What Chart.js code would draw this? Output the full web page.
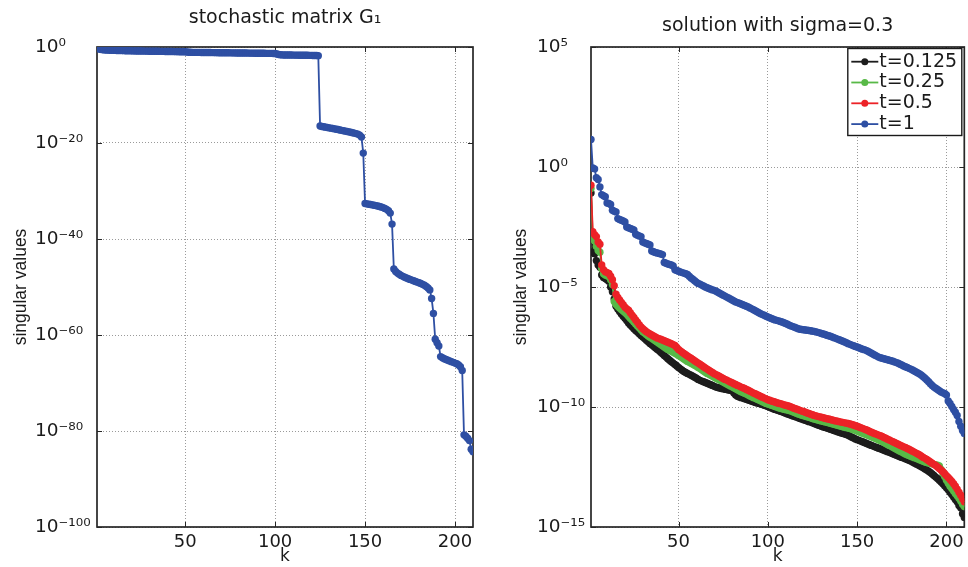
<!DOCTYPE html>
<html><head><meta charset="utf-8">
<script src="https://cdn.jsdelivr.net/npm/chart.js@4/dist/chart.umd.min.js"></script>
<style>
html,body{margin:0;padding:0;background:#fff;}
#wrap{position:relative;width:968px;height:567px;overflow:hidden;background:#fff;}
canvas{position:absolute;top:0;}
#c1{left:0;} #c2{left:484px;}
</style></head><body>
<div id="wrap"><canvas id="c1" width="484" height="567"></canvas><canvas id="c2" width="484" height="567"></canvas></div>
<script>
// ---------- data ----------
const xTickValues = [50, 100, 150, 200];
const leftYTickExponents = [0, -20, -40, -60, -80, -100];
const rightYTickExponents = [5, 0, -5, -10, -15];
const leftTitle = 'stochastic matrix G₁';
const rightTitle = 'solution with sigma=0.3';
const xAxisLabel = 'k';
const yAxisLabel = 'singular values';
const seriesLabels = ['t=0.125', 't=0.25', 't=0.5', 't=1'];

// log10 of singular values, k = 1..210
const g1Log10 = [
 0.00,-0.40,-0.50,-0.55,-0.60,-0.62,-0.65,-0.67,-0.69,-0.70,
 -0.71,-0.72,-0.73,-0.74,-0.75,-0.76,-0.77,-0.78,-0.79,-0.80,
 -0.81,-0.81,-0.82,-0.83,-0.83,-0.84,-0.85,-0.85,-0.86,-0.87,
 -0.87,-0.88,-0.89,-0.89,-0.90,-0.91,-0.91,-0.92,-0.93,-0.93,
 -0.94,-0.95,-0.95,-0.96,-0.97,-0.97,-0.98,-0.99,-0.99,-1.00,
 -1.05,-1.08,-1.10,-1.11,-1.12,-1.12,-1.13,-1.13,-1.14,-1.14,
 -1.15,-1.15,-1.16,-1.16,-1.17,-1.17,-1.18,-1.18,-1.19,-1.19,
 -1.20,-1.20,-1.21,-1.21,-1.22,-1.22,-1.23,-1.23,-1.24,-1.24,
 -1.25,-1.25,-1.26,-1.26,-1.27,-1.27,-1.28,-1.28,-1.29,-1.29,
 -1.30,-1.30,-1.31,-1.31,-1.32,-1.32,-1.33,-1.33,-1.34,-1.35,
 -1.45,-1.55,-1.62,-1.65,-1.66,-1.67,-1.67,-1.68,-1.68,-1.69,
 -1.69,-1.70,-1.70,-1.71,-1.71,-1.72,-1.72,-1.73,-1.74,-1.75,
 -1.76,-1.77,-1.78,-1.80,-16.46,-16.55,-16.62,-16.70,-16.77,-16.84,
 -16.91,-16.98,-17.05,-17.12,-17.20,-17.28,-17.36,-17.44,-17.52,-17.60,
 -17.68,-17.76,-17.85,-17.94,-18.04,-18.15,-18.35,-18.75,-22.10,-32.60,
 -32.68,-32.75,-32.82,-32.89,-32.96,-33.04,-33.12,-33.22,-33.33,-33.46,
 -33.62,-33.82,-34.10,-34.60,-36.90,-46.25,-46.75,-47.10,-47.35,-47.58,
 -47.78,-47.96,-48.12,-48.28,-48.42,-48.56,-48.70,-48.84,-48.98,-49.12,
 -49.28,-49.45,-49.65,-49.90,-50.20,-50.60,-52.40,-55.50,-60.90,-61.60,
 -62.30,-64.50,-64.75,-64.95,-65.10,-65.25,-65.40,-65.55,-65.70,-65.85,
 -66.00,-66.25,-66.60,-67.40,-80.80,-81.10,-81.50,-82.00,-83.80,-84.30
];

const t0125Log10 = [
 -1.08,-3.54,-3.62,-3.90,-4.08,-4.18,-4.50,-4.60,-4.65,-4.70,
 -4.76,-5.00,-5.20,-5.50,-5.80,-5.92,-6.02,-6.12,-6.22,-6.30,
 -6.40,-6.50,-6.58,-6.66,-6.74,-6.81,-6.88,-6.95,-7.02,-7.08,
 -7.15,-7.22,-7.28,-7.35,-7.41,-7.47,-7.53,-7.59,-7.65,-7.72,
 -7.78,-7.85,-7.92,-7.99,-8.05,-8.11,-8.17,-8.23,-8.29,-8.35,
 -8.41,-8.47,-8.52,-8.56,-8.60,-8.64,-8.68,-8.72,-8.76,-8.80,
 -8.85,-8.89,-8.92,-8.95,-8.98,-9.01,-9.04,-9.07,-9.10,-9.14,
 -9.17,-9.19,-9.21,-9.23,-9.24,-9.26,-9.27,-9.29,-9.30,-9.32,
 -9.42,-9.50,-9.55,-9.58,-9.61,-9.63,-9.66,-9.68,-9.71,-9.73,
 -9.76,-9.78,-9.81,-9.83,-9.85,-9.88,-9.90,-9.93,-9.95,-9.98,
 -10.01,-10.04,-10.07,-10.10,-10.13,-10.15,-10.18,-10.20,-10.23,-10.26,
 -10.29,-10.31,-10.34,-10.37,-10.40,-10.42,-10.45,-10.48,-10.50,-10.53,
 -10.55,-10.58,-10.61,-10.63,-10.66,-10.69,-10.72,-10.75,-10.77,-10.80,
 -10.83,-10.85,-10.88,-10.90,-10.93,-10.95,-10.98,-11.00,-11.03,-11.05,
 -11.08,-11.10,-11.13,-11.15,-11.18,-11.22,-11.26,-11.29,-11.33,-11.36,
 -11.39,-11.42,-11.45,-11.48,-11.51,-11.54,-11.57,-11.60,-11.63,-11.66,
 -11.69,-11.72,-11.74,-11.77,-11.80,-11.83,-11.86,-11.89,-11.92,-11.95,
 -11.98,-12.01,-12.04,-12.07,-12.10,-12.13,-12.16,-12.19,-12.22,-12.25,
 -12.29,-12.33,-12.37,-12.41,-12.45,-12.49,-12.53,-12.58,-12.63,-12.68,
 -12.73,-12.79,-12.85,-12.92,-12.98,-13.05,-13.12,-13.20,-13.28,-13.36,
 -13.45,-13.55,-13.65,-13.75,-13.85,-13.95,-14.10,-14.20,-14.45,-14.60
];

const t025Log10 = [
 -0.90,-2.98,-3.08,-3.30,-3.48,-3.55,-4.24,-4.45,-4.50,-4.53,
 -4.56,-4.70,-4.90,-5.60,-5.72,-5.80,-5.87,-5.94,-6.00,-6.06,
 -6.14,-6.22,-6.30,-6.38,-6.46,-6.54,-6.62,-6.70,-6.78,-6.86,
 -6.92,-6.98,-7.04,-7.09,-7.14,-7.19,-7.24,-7.29,-7.34,-7.40,
 -7.45,-7.50,-7.55,-7.60,-7.64,-7.68,-7.72,-7.76,-7.80,-7.85,
 -7.90,-7.95,-8.00,-8.05,-8.10,-8.14,-8.18,-8.22,-8.26,-8.30,
 -8.35,-8.40,-8.45,-8.50,-8.55,-8.60,-8.64,-8.68,-8.72,-8.76,
 -8.80,-8.84,-8.88,-8.92,-8.96,-9.00,-9.04,-9.08,-9.12,-9.16,
 -9.20,-9.24,-9.28,-9.32,-9.36,-9.40,-9.43,-9.46,-9.50,-9.54,
 -9.57,-9.61,-9.64,-9.68,-9.71,-9.74,-9.78,-9.81,-9.85,-9.88,
 -9.90,-9.93,-9.95,-9.98,-10.00,-10.03,-10.05,-10.07,-10.09,-10.11,
 -10.13,-10.15,-10.17,-10.20,-10.23,-10.26,-10.29,-10.31,-10.34,-10.36,
 -10.39,-10.41,-10.43,-10.45,-10.48,-10.50,-10.52,-10.54,-10.56,-10.58,
 -10.60,-10.62,-10.64,-10.66,-10.68,-10.70,-10.72,-10.74,-10.76,-10.78,
 -10.80,-10.82,-10.84,-10.86,-10.88,-10.90,-10.92,-10.95,-10.97,-11.00,
 -11.03,-11.06,-11.09,-11.12,-11.15,-11.18,-11.21,-11.24,-11.27,-11.30,
 -11.33,-11.37,-11.40,-11.44,-11.48,-11.52,-11.56,-11.60,-11.64,-11.68,
 -11.72,-11.76,-11.80,-11.84,-11.88,-11.92,-11.96,-11.99,-12.02,-12.05,
 -12.08,-12.11,-12.14,-12.17,-12.20,-12.23,-12.26,-12.29,-12.31,-12.33,
 -12.35,-12.37,-12.39,-12.41,-12.43,-12.46,-12.60,-12.75,-12.90,-13.05,
 -13.18,-13.30,-13.40,-13.50,-13.60,-13.70,-13.80,-13.92,-14.05,-14.15
];

const t05Log10 = [
 -0.76,-2.70,-2.82,-2.90,-3.12,-3.22,-4.08,-4.28,-4.36,-4.40,
 -4.44,-4.55,-4.70,-4.95,-5.30,-5.44,-5.54,-5.64,-5.74,-5.84,
 -5.91,-5.97,-6.07,-6.17,-6.27,-6.37,-6.47,-6.57,-6.66,-6.74,
 -6.80,-6.86,-6.91,-6.96,-7.00,-7.04,-7.08,-7.12,-7.15,-7.18,
 -7.21,-7.24,-7.27,-7.30,-7.33,-7.36,-7.40,-7.44,-7.52,-7.60,
 -7.66,-7.72,-7.77,-7.82,-7.87,-7.92,-7.97,-8.02,-8.07,-8.12,
 -8.17,-8.22,-8.27,-8.32,-8.37,-8.42,-8.47,-8.52,-8.56,-8.61,
 -8.65,-8.69,-8.73,-8.77,-8.81,-8.85,-8.88,-8.92,-8.96,-8.99,
 -9.03,-9.06,-9.10,-9.13,-9.17,-9.20,-9.23,-9.27,-9.30,-9.34,
 -9.38,-9.42,-9.45,-9.49,-9.52,-9.56,-9.59,-9.63,-9.66,-9.70,
 -9.72,-9.75,-9.77,-9.79,-9.82,-9.84,-9.86,-9.88,-9.91,-9.93,
 -9.95,-9.97,-10.00,-10.03,-10.06,-10.08,-10.11,-10.14,-10.17,-10.19,
 -10.22,-10.25,-10.27,-10.30,-10.32,-10.35,-10.37,-10.39,-10.41,-10.43,
 -10.45,-10.47,-10.49,-10.50,-10.52,-10.54,-10.56,-10.58,-10.59,-10.61,
 -10.63,-10.64,-10.66,-10.67,-10.69,-10.71,-10.73,-10.75,-10.78,-10.80,
 -10.83,-10.86,-10.89,-10.92,-10.95,-10.98,-11.02,-11.05,-11.08,-11.11,
 -11.14,-11.17,-11.20,-11.23,-11.27,-11.30,-11.34,-11.37,-11.41,-11.45,
 -11.48,-11.52,-11.55,-11.59,-11.62,-11.66,-11.69,-11.73,-11.76,-11.80,
 -11.84,-11.88,-11.92,-11.96,-12.00,-12.05,-12.10,-12.14,-12.19,-12.24,
 -12.29,-12.34,-12.39,-12.44,-12.50,-12.56,-12.63,-12.70,-12.78,-12.86,
 -12.94,-13.02,-13.10,-13.20,-13.30,-13.42,-13.55,-13.68,-13.82,-13.95
];

const t1Log10 = [
 1.15,-0.04,-0.08,-0.45,-0.52,-0.83,-1.15,-1.20,-1.24,-1.50,
 -1.52,-1.56,-1.80,-1.84,-1.87,-2.15,-2.19,-2.22,-2.25,-2.29,
 -2.50,-2.53,-2.56,-2.59,-2.62,-2.80,-2.84,-2.87,-2.90,-3.12,
 -3.16,-3.19,-3.22,-3.25,-3.50,-3.53,-3.56,-3.58,-3.60,-3.62,
 -3.65,-3.98,-4.01,-4.04,-4.06,-4.08,-4.12,-4.28,-4.31,-4.34,
 -4.37,-4.40,-4.42,-4.45,-4.48,-4.55,-4.62,-4.68,-4.74,-4.80,
 -4.85,-4.88,-4.92,-4.96,-5.00,-5.03,-5.06,-5.09,-5.12,-5.14,
 -5.18,-5.22,-5.26,-5.30,-5.34,-5.38,-5.42,-5.46,-5.50,-5.54,
 -5.58,-5.62,-5.65,-5.68,-5.71,-5.74,-5.77,-5.80,-5.83,-5.87,
 -5.91,-5.95,-5.99,-6.03,-6.07,-6.11,-6.15,-6.18,-6.22,-6.25,
 -6.28,-6.31,-6.34,-6.37,-6.39,-6.41,-6.44,-6.46,-6.49,-6.52,
 -6.55,-6.59,-6.62,-6.65,-6.68,-6.71,-6.74,-6.76,-6.77,-6.78,
 -6.79,-6.80,-6.81,-6.82,-6.84,-6.85,-6.87,-6.89,-6.91,-6.94,
 -6.96,-6.98,-7.01,-7.03,-7.05,-7.08,-7.11,-7.14,-7.17,-7.20,
 -7.23,-7.26,-7.29,-7.32,-7.36,-7.39,-7.42,-7.45,-7.48,-7.50,
 -7.53,-7.56,-7.59,-7.61,-7.64,-7.68,-7.72,-7.76,-7.80,-7.84,
 -7.88,-7.92,-7.95,-7.97,-7.99,-8.01,-8.03,-8.05,-8.07,-8.09,
 -8.12,-8.15,-8.18,-8.22,-8.25,-8.29,-8.32,-8.35,-8.39,-8.42,
 -8.46,-8.50,-8.54,-8.58,-8.62,-8.68,-8.74,-8.80,-8.87,-8.95,
 -9.03,-9.10,-9.17,-9.22,-9.27,-9.32,-9.37,-9.41,-9.44,-9.50,
 -9.75,-9.85,-9.98,-10.10,-10.22,-10.35,-10.60,-10.80,-10.98,-11.10
];

const seriesColors = ['#1c1c1c', '#58b947', '#ec2227', '#2e4fa3'];

// ---------- helpers ----------
const SUP = {'0':'⁰','1':'¹','2':'²','3':'³','4':'⁴','5':'⁵','6':'⁶','7':'⁷','8':'⁸','9':'⁹','-':'⁻'};
function powLabel(v){
  const e = Math.round(Math.log10(v));
  return '10' + String(e).split('').map(c => SUP[c]).join('');
}
function toPoints(arr){ return arr.map((v, i) => ({x: i + 1, y: Math.pow(10, v)})); }

Chart.defaults.font.family = '"DejaVu Sans", "Liberation Sans", sans-serif';
Chart.defaults.color = '#1a1a1a';

const framePlugin = {
  id: 'frame',
  beforeDatasetsDraw(chart){
    const {ctx, chartArea: ca, scales} = chart;
    ctx.save();
    ctx.strokeStyle = '#262626';
    ctx.lineWidth = 1;
    const tl = 5;
    ctx.beginPath();
    scales.x.ticks.forEach(t => {
      const px = Math.round(scales.x.getPixelForValue(t.value)) + 0.5;
      ctx.moveTo(px, ca.bottom); ctx.lineTo(px, ca.bottom - tl);
      ctx.moveTo(px, ca.top); ctx.lineTo(px, ca.top + tl);
    });
    scales.y.ticks.forEach(t => {
      const py = Math.round(scales.y.getPixelForValue(t.value)) + 0.5;
      ctx.moveTo(ca.left, py); ctx.lineTo(ca.left + tl, py);
      ctx.moveTo(ca.right, py); ctx.lineTo(ca.right - tl, py);
    });
    ctx.stroke();
    ctx.lineWidth = 1.7;
    ctx.strokeRect(ca.left, ca.top, ca.right - ca.left, ca.bottom - ca.top);
    ctx.restore();
  },
  afterDraw(chart, args, opts){
    const {ctx, chartArea: ca} = chart;
    ctx.save();
    ctx.translate(opts.yTitleX, (ca.top + ca.bottom) / 2);
    ctx.rotate(-Math.PI / 2);
    ctx.textAlign = 'center';
    ctx.textBaseline = 'middle';
    ctx.fillStyle = '#1a1a1a';
    ctx.font = '17.5px "Liberation Sans", "DejaVu Sans", sans-serif';
    ctx.fillText(yAxisLabel, 0, 0);
    ctx.restore();
  }
};

const boxLegendPlugin = {
  id: 'boxLegend',
  afterDraw(chart, args, opts){
    if (!opts.show) return;
    const {ctx, chartArea: ca} = chart;
    const w = 114, h = 87;
    const x0 = ca.right - 3 - w, y0 = ca.top + 1;
    ctx.save();
    ctx.fillStyle = '#fff';
    ctx.fillRect(x0, y0, w, h);
    ctx.strokeStyle = '#1a1a1a';
    ctx.lineWidth = 1.4;
    ctx.strokeRect(x0 + 0.5, y0 + 0.5, w, h);
    ctx.font = '19px "DejaVu Sans", sans-serif';
    ctx.textBaseline = 'middle';
    ctx.textAlign = 'left';
    chart.data.datasets.forEach((ds, i) => {
      const cy = y0 + 13.7 + i * 20.8;
      ctx.strokeStyle = ds.borderColor;
      ctx.lineWidth = 1.8;
      ctx.beginPath(); ctx.moveTo(x0 + 4, cy); ctx.lineTo(x0 + 31, cy); ctx.stroke();
      ctx.fillStyle = ds.borderColor;
      ctx.beginPath(); ctx.arc(x0 + 17.5, cy, 3.5, 0, Math.PI * 2); ctx.fill();
      ctx.fillStyle = '#1a1a1a';
      ctx.fillText(ds.label, x0 + 32, cy);
    });
    ctx.restore();
  }
};

function makeOptions(cfg){
  return {
    responsive: false,
    animation: false,
    devicePixelRatio: 1,
    events: [],
    layout: {padding: {left: cfg.padLeft, right: cfg.padRight, top: 0, bottom: 0}},
    plugins: {
      legend: {display: false},
      tooltip: {enabled: false},
      title: {
        display: true, text: cfg.title, fullSize: false,
        font: {size: 19, weight: 'normal', lineHeight: 1.2},
        color: '#1a1a1a',
        padding: cfg.titlePad
      },
      frame: {yTitleX: cfg.yTitleX},
      boxLegend: {show: cfg.legend}
    },
    scales: {
      x: {
        type: 'linear', min: 1, max: 210,
        afterBuildTicks: s => { s.ticks = xTickValues.map(v => ({value: v})); },
        afterFit: s => { s.height = 40; },
        ticks: {autoSkip: false, maxRotation: 0, padding: 0, font: {size: 18}, color: '#1a1a1a', callback: v => String(v)},
        grid: {color: '#9a9a9a', lineWidth: 1, drawTicks: true, tickLength: 5, tickColor: 'rgba(0,0,0,0)'},
        border: {display: false, dash: [1, 2]},
        title: {display: true, text: xAxisLabel, font: {size: 17, lineHeight: 1.2}, color: '#1a1a1a', padding: {top: 0, bottom: 0}}
      },
      y: {
        type: 'logarithmic', min: Math.pow(10, cfg.yTicks[cfg.yTicks.length - 1]), max: Math.pow(10, cfg.yTicks[0]),
        afterBuildTicks: s => { s.ticks = cfg.yTicks.map(e => ({value: Math.pow(10, e)})); },
        afterFit: s => { s.width = cfg.yWidth; },
        ticks: {autoSkip: false, crossAlign: 'far', padding: 0, font: {size: 18.5}, color: '#1a1a1a', callback: v => powLabel(v)},
        grid: {color: '#9a9a9a', lineWidth: 1, drawTicks: false},
        border: {display: false, dash: [1, 2]}
      }
    }
  };
}

function ds(label, arr, color, order){
  return {
    label: label, data: toPoints(arr), borderColor: color, backgroundColor: color,
    borderWidth: 1.8, pointRadius: 3.7, pointBorderWidth: 0, pointBackgroundColor: color,
    pointHoverRadius: 0, tension: 0, order: order
  };
}

new Chart(document.getElementById('c1'), {
  type: 'line',
  data: {datasets: [ds('G1', g1Log10, seriesColors[3], 1)]},
  options: makeOptions({padLeft: 35, padRight: 11, yWidth: 62, yTicks: leftYTickExponents,
    title: leftTitle, titlePad: {top: 7, bottom: 17.2}, yTitleX: 21, legend: false}),
  plugins: [framePlugin, boxLegendPlugin]
});

new Chart(document.getElementById('c2'), {
  type: 'line',
  data: {datasets: [
    ds(seriesLabels[0], t0125Log10, seriesColors[0], 4),
    ds(seriesLabels[1], t025Log10, seriesColors[1], 3),
    ds(seriesLabels[2], t05Log10, seriesColors[2], 2),
    ds(seriesLabels[3], t1Log10, seriesColors[3], 1)
  ]},
  options: makeOptions({padLeft: 53, padRight: 1, yWidth: 54, yTicks: rightYTickExponents,
    title: rightTitle, titlePad: {top: 14.2, bottom: 10}, yTitleX: 521 - 484, legend: true}),
  plugins: [framePlugin, boxLegendPlugin]
});
</script>
</body></html>
